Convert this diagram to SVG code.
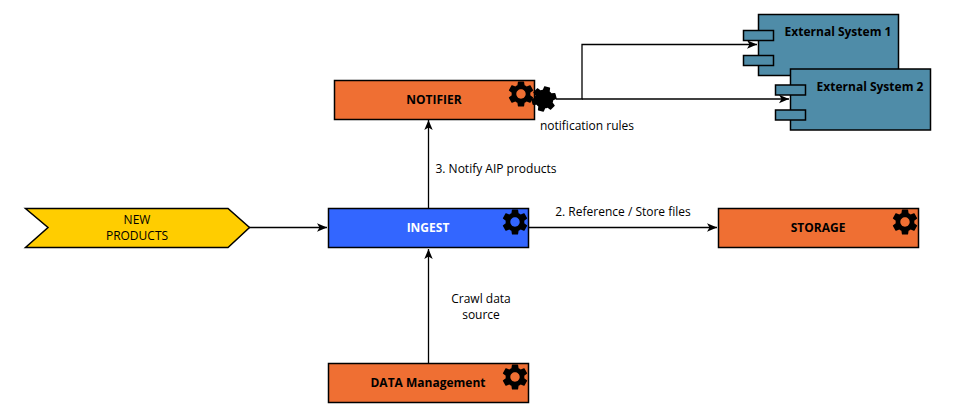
<svg xmlns="http://www.w3.org/2000/svg" xmlns:xlink="http://www.w3.org/1999/xlink" width="963" height="417" viewBox="0 0 963 417">
<style>
text{font-family:"Open Sans","Noto Sans",sans-serif;font-size:12px;fill:#000;text-anchor:middle}
.b{font-weight:700}
.box{stroke:#000;stroke-width:1.5}
.o{fill:#ef6f33}
.t{fill:#4f8ca8}
.c{fill:none;stroke:#000;stroke-width:1.3}
</style>
<defs>
<marker id="a" markerUnits="userSpaceOnUse" markerWidth="12" markerHeight="10" refX="10" refY="5" orient="auto"><path d="M0 0.8L10 5L0 9.2L2.5 5Z" fill="#000"/></marker>
<path id="gear" d="M19.14 12.94c.04-.3.06-.61.06-.94 0-.32-.02-.64-.07-.94l2.03-1.58a.49.49 0 0 0 .12-.61l-1.92-3.32a.488.488 0 0 0-.59-.22l-2.39.96c-.5-.38-1.03-.7-1.62-.94l-.36-2.54a.484.484 0 0 0-.48-.41h-3.84c-.24 0-.43.17-.47.41l-.36 2.54c-.59.24-1.13.57-1.62.94l-2.39-.96c-.22-.08-.47 0-.59.22L2.74 8.87c-.12.21-.08.47.12.61l2.03 1.58c-.05.3-.09.63-.09.94s.02.64.07.94l-2.03 1.58a.49.49 0 0 0-.12.61l1.92 3.32c.12.22.37.29.59.22l2.39-.96c.5.38 1.03.7 1.62.94l.36 2.54c.05.24.24.41.48.41h3.84c.24 0 .44-.17.47-.41l.36-2.54c.59-.24 1.13-.56 1.62-.94l2.39.96c.22.08.47 0 .59-.22l1.92-3.32c.12-.22.07-.47-.12-.61l-2.01-1.58zM12 15.6c-1.98 0-3.6-1.62-3.6-3.6s1.62-3.6 3.6-3.6 3.6 1.62 3.6 3.6-1.62 3.6-3.6 3.6z" fill="#000" fill-rule="evenodd" transform="translate(-15.600 -15.600) scale(1.3)"/>
<g id="comp"><rect class="box t" x="0" y="0" width="140" height="61"/><rect class="box t" x="-15" y="16" width="30" height="10"/><rect class="box t" x="-15" y="41" width="30" height="10"/></g>
</defs>
<g id="connectors">
<path class="c" d="M249 227.500H327" marker-end="url(#a)"/>
<path class="c" d="M428.500 208V120" marker-end="url(#a)"/>
<path class="c" d="M428.500 363V249" marker-end="url(#a)"/>
<path class="c" d="M529 227.500H717" marker-end="url(#a)"/>
<path class="c" d="M556 99H582V44.500H757" marker-end="url(#a)"/>
<path class="c" d="M582 99H789" marker-end="url(#a)"/>
</g>
<g id="new-products"><path class="box" fill="#ffcd00" d="M25.500 208.500H228L249.500 227.500L228 247.500H25.500L48 227.500Z"/><text x="137" y="224">NEW</text><text x="137" y="240">PRODUCTS</text></g>
<g id="notifier"><rect class="box o" x="334.500" y="80.500" width="200" height="39"/><text class="b" x="434" y="104">NOTIFIER</text><use xlink:href="#gear" x="521" y="94"/></g>
<g id="notifier-rules"><g transform="translate(544 99) rotate(15)"><circle r="6" fill="#000"/><use xlink:href="#gear"/></g><text x="587" y="130">notification rules</text></g>
<g id="ingest"><rect class="box" fill="#3366ff" x="328.500" y="208.500" width="200" height="39"/><text class="b" x="428" y="232" style="fill:#fff">INGEST</text><use xlink:href="#gear" x="515" y="222"/></g>
<g id="storage"><rect class="box o" x="718.500" y="208.500" width="200" height="39"/><text class="b" x="818" y="232">STORAGE</text><use xlink:href="#gear" x="905" y="222"/></g>
<g id="data-management"><rect class="box o" x="328.500" y="363.500" width="200" height="39"/><text class="b" x="428" y="387">DATA Management</text><use xlink:href="#gear" x="515" y="377"/></g>
<g id="external-1"><use xlink:href="#comp" x="758.500" y="14.500"/><text class="b" x="838" y="36">External System 1</text></g>
<g id="external-2"><use xlink:href="#comp" x="790.500" y="69"/><text class="b" x="870" y="91">External System 2</text></g>
<g id="labels"><text x="496" y="173">3. Notify AIP products</text><text x="623" y="216">2. Reference / Store files</text><text x="481" y="303">Crawl data</text><text x="481" y="319">source</text></g>
</svg>
